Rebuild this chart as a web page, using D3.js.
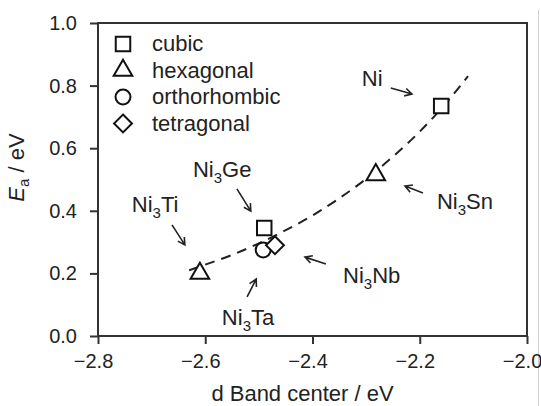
<!DOCTYPE html>
<html>
<head>
<meta charset="utf-8">
<script src="https://cdn.jsdelivr.net/npm/d3@7"></script>
<style>
body { margin: 0; background: #fff; }
text { font-family: Arial, "Liberation Sans", sans-serif; fill: #222; }
</style>
</head>
<body>
<div id="chart-area"></div>
<script>
// data
var names = ["Ni", "Ni3Ge", "Ni3Sn", "Ni3Ti", "Ni3Ta", "Ni3Nb"];
var structure = ["cubic", "cubic", "hexagonal", "hexagonal", "orthorhombic", "tetragonal"];
var bandCenter = [-2.16, -2.49, -2.282, -2.61, -2.492, -2.47];
var energy = [0.735, 0.345, 0.515, 0.20, 0.275, 0.29];

var legendNames = ["cubic", "hexagonal", "orthorhombic", "tetragonal"];

// dashed trend line
var fitX = [-2.63, -2.6, -2.55, -2.5, -2.45, -2.4, -2.35, -2.3, -2.25, -2.2, -2.15, -2.11];
var fitY = [0.21, 0.228, 0.259, 0.296, 0.338, 0.385, 0.44, 0.502, 0.573, 0.653, 0.746, 0.83];

var xTicks = [-2.8, -2.6, -2.4, -2.2, -2.0];
var yTicks = [0.0, 0.2, 0.4, 0.6, 0.8, 1.0];

// annotations: label start, arrow tail, arrow head (data units)
var labelX = [-2.308, -2.623, -2.168, -2.737, -2.569, -2.343];
var labelY = [0.799, 0.508, 0.406, 0.396, 0.035, 0.169];
var arrowFrom = [[-2.254, 0.792], [-2.541, 0.470], [-2.194, 0.457], [-2.662, 0.355], [-2.522, 0.125], [-2.375, 0.230]];
var arrowTo = [[-2.2145, 0.773], [-2.515, 0.399], [-2.2275, 0.479], [-2.638, 0.291], [-2.505, 0.182], [-2.414, 0.252]];

var margin = {left: 98, top: 23};
var width = 429, height = 313;

var svg = d3.select("#chart-area").append("svg")
	.attr("width", 541)
	.attr("height", 406);

// thin grey border on the right edge of the picture
svg.append("line")
	.attr("x1", 538.5).attr("x2", 538.5)
	.attr("y1", 10).attr("y2", 406)
	.attr("stroke", "#d0d0d0")
	.attr("stroke-width", 1);

var group = svg.append("g")
	.attr("transform", "translate(" + margin.left + "," + margin.top + ")");

var x = d3.scaleLinear().domain([-2.8, -2.0]).range([0, width]);
var y = d3.scaleLinear().domain([0, 1.0]).range([height, 0]);

// square diamond (rotated square) instead of d3's tall diamond
var squareDiamond = {
	draw: function(ctx, size) {
		var r = Math.sqrt(size / 2);
		ctx.moveTo(0, -r); ctx.lineTo(r, 0); ctx.lineTo(0, r); ctx.lineTo(-r, 0); ctx.closePath();
	}
};

var symbols = d3.scaleOrdinal()
	.domain(legendNames)
	.range([d3.symbolSquare, d3.symbolTriangle, d3.symbolCircle, squareDiamond]);
var symbolSize = d3.scaleOrdinal()
	.domain(legendNames)
	.range([210, 150, 175, 160]);

// axes
var bottomAxis = d3.axisBottom(x)
	.tickValues(xTicks)
	.tickSizeInner(8)
	.tickSizeOuter(0)
	.tickPadding(10)
	.tickFormat(d3.format(".1f"));
var gx = group.append("g")
	.attr("transform", "translate(0," + height + ")")
	.call(bottomAxis);
gx.selectAll("text").attr("dx", -5);

var leftAxis = d3.axisLeft(y)
	.tickValues(yTicks)
	.tickSizeInner(8)
	.tickSizeOuter(0)
	.tickPadding(13)
	.tickFormat(d3.format(".1f"));
var gy = group.append("g").call(leftAxis);

[gx, gy].forEach(function(g) {
	g.select(".domain").remove();
	g.selectAll("line").attr("stroke", "#333").attr("stroke-width", 2);
	g.selectAll("text").attr("font-size", "20px").attr("fill", "#222")
		.style("font-family", "Arial, 'Liberation Sans', sans-serif");
});

group.append("rect")
	.attr("x", 0).attr("y", 0)
	.attr("width", width).attr("height", height)
	.attr("fill", "none")
	.attr("stroke", "#333")
	.attr("stroke-width", 2);

// axis titles
group.append("text")
	.attr("x", width / 2 - 10)
	.attr("y", height + 65)
	.attr("font-size", "22px")
	.attr("text-anchor", "middle")
	.text("d Band center / eV");

var yTitle = group.append("text")
	.attr("transform", "translate(-74," + (height / 2 - 12) + ") rotate(-90)")
	.attr("font-size", "22px")
	.attr("text-anchor", "middle");
yTitle.append("tspan").attr("font-style", "italic").text("E");
yTitle.append("tspan").attr("font-size", "15px").attr("dy", 5).text("a");
yTitle.append("tspan").attr("dy", -5).text(" / eV");

// trend line
var fit = fitX.map(function(d, i) { return [d, fitY[i]]; });
var line = d3.line()
	.x(function(d) { return x(d[0]); })
	.y(function(d) { return y(d[1]); })
	.curve(d3.curveMonotoneX);
group.append("path")
	.datum(fit)
	.attr("d", line)
	.attr("fill", "none")
	.attr("stroke", "#222")
	.attr("stroke-width", 2)
	.attr("stroke-dasharray", "10,7");

// points
var points = names.map(function(n, i) {
	return {name: n, type: structure[i], x: bandCenter[i], y: energy[i]};
});
group.selectAll(".pt").data(points).enter()
	.append("path")
	.attr("class", "pt")
	.attr("transform", function(d) { return "translate(" + x(d.x) + "," + y(d.y) + ")"; })
	.attr("d", function(d) { return d3.symbol().type(symbols(d.type)).size(symbolSize(d.type))(); })
	.attr("fill", "#fff")
	.attr("stroke", "#111")
	.attr("stroke-width", 2);

// legend
var legend = group.selectAll(".legend").data(legendNames).enter()
	.append("g")
	.attr("class", "legend")
	.attr("transform", function(d, i) { return "translate(25," + (21 + i * 26.5) + ")"; });
legend.append("path")
	.attr("d", function(d) { return d3.symbol().type(symbols(d)).size(symbolSize(d))(); })
	.attr("fill", "#fff")
	.attr("stroke", "#111")
	.attr("stroke-width", 2);
legend.append("text")
	.attr("x", 29)
	.attr("y", 7)
	.attr("font-size", "22px")
	.text(function(d) { return d; });

// labels with subscripts
names.forEach(function(n, i) {
	var t = group.append("text")
		.attr("x", x(labelX[i]))
		.attr("y", y(labelY[i]))
		.attr("font-size", "22px");
	var m = n.match(/^(Ni)(3)?(.*)$/);
	t.append("tspan").text(m[1]);
	if (m[2]) {
		t.append("tspan").attr("font-size", "15px").attr("dy", 6).text(m[2]);
		t.append("tspan").attr("dy", -6).text(m[3]);
	}
});

// arrows
names.forEach(function(n, i) {
	var x1 = x(arrowFrom[i][0]), y1 = y(arrowFrom[i][1]);
	var x2 = x(arrowTo[i][0]), y2 = y(arrowTo[i][1]);
	var a = Math.atan2(y2 - y1, x2 - x1), h = 8, s = 0.5;
	var p = d3.path();
	p.moveTo(x1, y1); p.lineTo(x2, y2);
	p.moveTo(x2 - h * Math.cos(a - s), y2 - h * Math.sin(a - s));
	p.lineTo(x2, y2);
	p.lineTo(x2 - h * Math.cos(a + s), y2 - h * Math.sin(a + s));
	group.append("path")
		.attr("d", p.toString())
		.attr("fill", "none")
		.attr("stroke", "#222")
		.attr("stroke-width", 1.6);
});
</script>
</body>
</html>
